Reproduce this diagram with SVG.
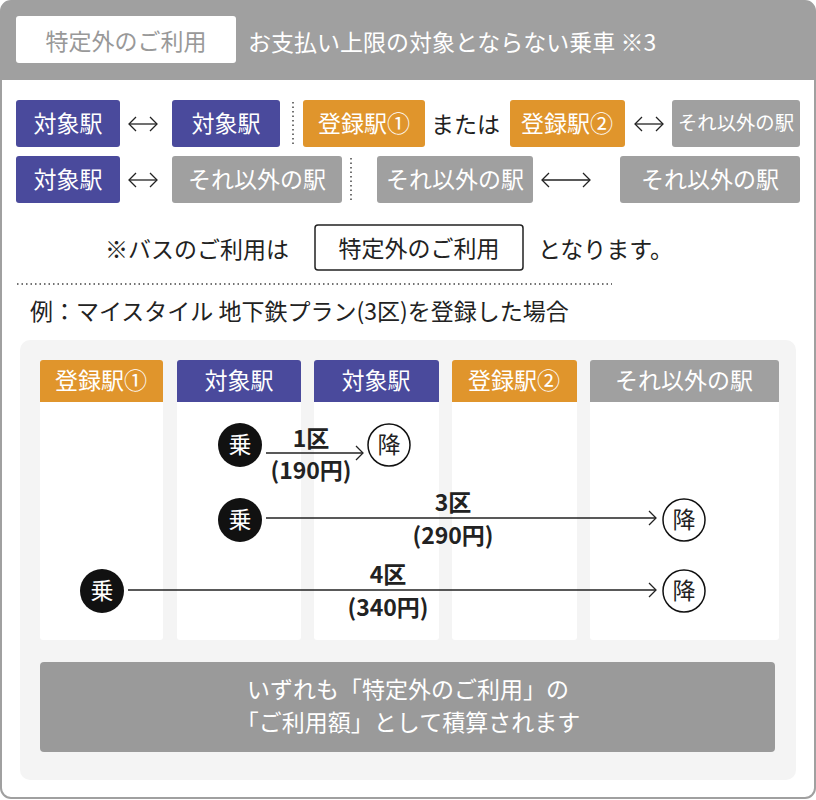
<svg xmlns="http://www.w3.org/2000/svg" width="816" height="800" viewBox="0 0 816 800">
<style>
text{font-family:"Noto Sans CJK JP","Noto Sans",sans-serif;}
.t{font-size:23px;fill:#fff;text-anchor:middle;}
.k{font-size:23px;fill:#222;}
.p{fill:#4a4a9c;}
.o{fill:#e0952c;}
.g{fill:#a0a0a0;}
.ln{stroke:#222;stroke-width:1.3;fill:none;}
.dot{stroke:#444;stroke-width:1.5;stroke-dasharray:1.5 3;}
.col{fill:#fff;}
.lbl{font-size:23px;font-weight:bold;fill:#222;text-anchor:middle;}
</style>
<defs><marker id="a" markerWidth="9" markerHeight="16" refX="8" refY="8" orient="auto-start-reverse" markerUnits="userSpaceOnUse"><path d="M1 1 L8 8 L1 15" class="ln"/></marker></defs>
<rect x="1" y="1" width="814" height="797" rx="10" fill="#fff" stroke="#a0a0a0" stroke-width="2"/>
<path d="M1 80 V11 a10 10 0 0 1 10 -10 H805 a10 10 0 0 1 10 10 V80 Z" fill="#a0a0a0"/>
<g id="header"><rect x="16" y="16" width="220" height="47" rx="3" fill="#fff"/>
<text x="126" y="50" font-size="23" fill="#999" text-anchor="middle">特定外のご利用</text>
<text x="248" y="51" font-size="23" fill="#fff">お支払い上限の対象とならない乗車 ※3</text></g>
<g id="row1">
<rect x="16" y="100" width="104" height="47" rx="3" class="p"/><text x="68" y="132" class="t">対象駅</text>
<rect x="172" y="100" width="108" height="47" rx="3" class="p"/><text x="226" y="132" class="t">対象駅</text>
<rect x="303" y="100" width="122" height="47" rx="3" class="o"/><text x="364" y="132" class="t">登録駅①</text>
<text x="431" y="133" class="k">または</text>
<rect x="510" y="100" width="115" height="47" rx="3" class="o"/><text x="567" y="132" class="t">登録駅②</text>
<rect x="672" y="100" width="128" height="47" rx="3" class="g"/><text x="736" y="130" class="t" style="font-size:19px" textLength="116" lengthAdjust="spacingAndGlyphs">それ以外の駅</text>
</g>
<g id="row2">
<rect x="16" y="156" width="104" height="47" rx="3" class="p"/><text x="68" y="188" class="t">対象駅</text>
<rect x="172" y="156" width="170" height="47" rx="3" class="g"/><text x="257" y="188" class="t">それ以外の駅</text>
<rect x="377" y="156" width="156" height="47" rx="3" class="g"/><text x="455" y="188" class="t">それ以外の駅</text>
<rect x="620" y="156" width="180" height="47" rx="3" class="g"/><text x="710" y="188" class="t">それ以外の駅</text>
</g>
<g id="connectors">
<line x1="129" y1="124" x2="157" y2="124" class="ln" marker-start="url(#a)" marker-end="url(#a)"/>
<line x1="129" y1="180" x2="157" y2="180" class="ln" marker-start="url(#a)" marker-end="url(#a)"/>
<line x1="635" y1="124" x2="663" y2="124" class="ln" marker-start="url(#a)" marker-end="url(#a)"/>
<line x1="542" y1="180" x2="590" y2="180" class="ln" marker-start="url(#a)" marker-end="url(#a)"/>
<line x1="293" y1="102" x2="293" y2="146" class="dot"/>
<line x1="351" y1="158" x2="351" y2="203" class="dot"/>
<line x1="17" y1="284" x2="612" y2="284" class="dot"/>
</g>
<g id="bus">
<text x="105" y="258" class="k">※バスのご利用は</text>
<rect x="315" y="225" width="208" height="45" rx="3" fill="#fff" stroke="#222" stroke-width="1.5"/>
<text x="419" y="257" class="k" text-anchor="middle">特定外のご利用</text>
<text x="538" y="258" class="k">となります。</text>
</g>
<text x="30" y="320" class="k">例：マイスタイル 地下鉄プラン(3区)を登録した場合</text>
<rect x="20" y="340" width="776" height="440" rx="10" fill="#f4f4f4"/>
<g id="cols">
<rect x="40" y="360" width="123" height="280" rx="3" class="col"/>
<rect x="177" y="360" width="124" height="280" rx="3" class="col"/>
<rect x="314" y="360" width="125" height="280" rx="3" class="col"/>
<rect x="452" y="360" width="125" height="280" rx="3" class="col"/>
<rect x="590" y="360" width="189" height="280" rx="3" class="col"/>
<path d="M40 402 V363 a3 3 0 0 1 3 -3 H160 a3 3 0 0 1 3 3 V402Z" class="o"/><text x="101" y="389" class="t">登録駅①</text>
<path d="M177 402 V363 a3 3 0 0 1 3 -3 H298 a3 3 0 0 1 3 3 V402Z" class="p"/><text x="239" y="389" class="t">対象駅</text>
<path d="M314 402 V363 a3 3 0 0 1 3 -3 H436 a3 3 0 0 1 3 3 V402Z" class="p"/><text x="376" y="389" class="t">対象駅</text>
<path d="M452 402 V363 a3 3 0 0 1 3 -3 H574 a3 3 0 0 1 3 3 V402Z" class="o"/><text x="514" y="389" class="t">登録駅②</text>
<path d="M590 402 V363 a3 3 0 0 1 3 -3 H776 a3 3 0 0 1 3 3 V402Z" class="g"/><text x="684" y="389" class="t">それ以外の駅</text>
</g>
<g id="trips">
<line x1="266" y1="453" x2="363" y2="453" class="ln" marker-end="url(#a)"/>
<line x1="266" y1="518" x2="656" y2="518" class="ln" marker-end="url(#a)"/>
<line x1="128" y1="590" x2="656" y2="590" class="ln" marker-end="url(#a)"/>
<circle cx="240" cy="445" r="22" fill="#111"/><text x="240" y="453" class="t">乗</text>
<circle cx="240" cy="520" r="22" fill="#111"/><text x="240" y="528" class="t">乗</text>
<circle cx="102" cy="591" r="22" fill="#111"/><text x="102" y="599" class="t">乗</text>
<circle cx="389" cy="445" r="21" fill="#fff" stroke="#111" stroke-width="1.5"/><text x="389" y="453" class="k" text-anchor="middle">降</text>
<circle cx="684" cy="520" r="21" fill="#fff" stroke="#111" stroke-width="1.5"/><text x="684" y="528" class="k" text-anchor="middle">降</text>
<circle cx="684" cy="591" r="21" fill="#fff" stroke="#111" stroke-width="1.5"/><text x="684" y="599" class="k" text-anchor="middle">降</text>
<text x="311" y="447" class="lbl">1区</text><text x="311" y="479" class="lbl">(190円)</text>
<text x="453" y="511" class="lbl">3区</text><text x="453" y="544" class="lbl">(290円)</text>
<text x="388" y="583" class="lbl">4区</text><text x="388" y="616" class="lbl">(340円)</text>
</g>
<g id="note">
<rect x="40" y="662" width="735" height="90" rx="4" fill="#9a9a9a"/>
<text x="408" y="698" class="t">いずれも「特定外のご利用」の</text>
<text x="408" y="731" class="t">「ご利用額」として積算されます</text>
</g>
</svg>
